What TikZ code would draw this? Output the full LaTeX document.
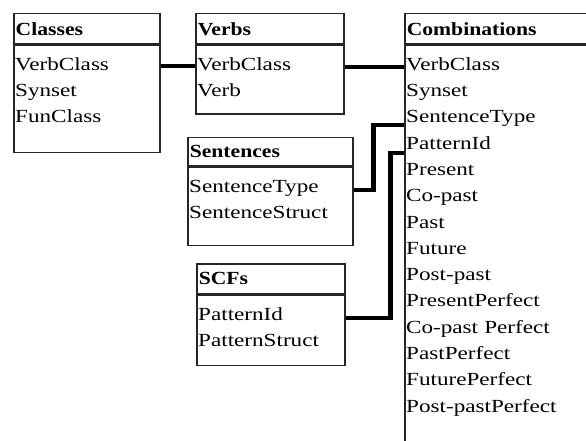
\documentclass[tikz,border=0pt]{standalone}
\usepackage{fontspec}
\setmainfont{Liberation Serif}[FakeStretch=1.25]
\newfontfamily\hdfont{Liberation Serif}[FakeStretch=1.17]
\usepackage{tikz}
\usetikzlibrary{positioning}

\begin{document}
\begin{tikzpicture}[x=1pt, y=-1pt, node distance=0pt,
  hdr/.style={rectangle, draw=black!85, line width=1.5pt, anchor=north west, align=left,
    minimum height=30pt, inner xsep=2pt, inner ysep=0pt, font=\hdfont\bfseries\fontsize{18.5pt}{22pt}\selectfont},
  tbody/.style={rectangle, draw=black!85, line width=1.5pt, inner sep=0pt},
  item/.style={rectangle, inner xsep=2pt, inner ysep=0pt, text width=175pt, align=left,
    text height=17pt, text depth=8.9pt, font=\fontsize{18.5pt}{22pt}\selectfont},
  link/.style={line width=4.5pt, black}]
  \clip (0,0) rectangle (586,441);
  % tables
  \node[hdr, text width=142pt] (classes) at (13,13) {Classes};
  \node[tbody, below=of classes, minimum width=146pt, minimum height=107pt] (classes-b) {};
  \node[hdr, text width=144pt] (verbs) at (195,13) {Verbs};
  \node[tbody, below=of verbs, minimum width=148pt, minimum height=69pt] (verbs-b) {};
  \node[hdr, text width=161pt, minimum height=28pt] (sentences) at (187,137) {Sentences};
  \node[tbody, below=of sentences, minimum width=165pt, minimum height=78pt] (sentences-b) {};
  \node[hdr, text width=144pt] (scfs) at (196,263) {SCFs};
  \node[tbody, below=of scfs, minimum width=148pt, minimum height=70pt] (scfs-b) {};
  \node[hdr, text width=246pt] (comb) at (404,13) {Combinations};
  \node[tbody, below=of comb, minimum width=250pt, minimum height=430pt] (comb-b) {};
  % fields
  \node[item, anchor=north west] (cls-vc) at ([yshift=-8.5pt]classes-b.north west) {VerbClass};
  \node[item, below=of cls-vc] (cls-syn) {Synset};
  \node[item, below=of cls-syn] (cls-fun) {FunClass};
  \node[item, anchor=north west] (vrb-vc) at ([yshift=-8.5pt]verbs-b.north west) {VerbClass};
  \node[item, below=of vrb-vc] (vrb-verb) {Verb};
  \node[item, anchor=north west] (sen-st) at ([yshift=-8.5pt]sentences-b.north west) {SentenceType};
  \node[item, below=of sen-st] (sen-ss) {SentenceStruct};
  \node[item, anchor=north west] (scf-pi) at ([yshift=-8.5pt]scfs-b.north west) {PatternId};
  \node[item, below=of scf-pi] (scf-ps) {PatternStruct};
  \node[item, anchor=north west] (comb-vc) at ([yshift=-8.5pt]comb-b.north west) {VerbClass};
  \node[item, below=of comb-vc] (comb-syn) {Synset};
  \node[item, below=of comb-syn] (comb-st) {SentenceType};
  \node[item, below=of comb-st] (comb-pi) {PatternId};
  \node[item, below=of comb-pi] (comb-pres) {Present};
  \node[item, below=of comb-pres] (comb-cop) {Co-past};
  \node[item, below=of comb-cop] (comb-past) {Past};
  \node[item, below=of comb-past] (comb-fut) {Future};
  \node[item, below=of comb-fut] (comb-pop) {Post-past};
  \node[item, below=of comb-pop] (comb-prp) {PresentPerfect};
  \node[item, below=of comb-prp] (comb-copp) {Co-past Perfect};
  \node[item, below=of comb-copp] (comb-pap) {PastPerfect};
  \node[item, below=of comb-pap] (comb-fup) {FuturePerfect};
  \node[item, below=of comb-fup] (comb-popp) {Post-pastPerfect};
  % links
  \draw[link] ([yshift=2pt]cls-vc.mid -| classes-b.east) -- ([yshift=2pt]cls-vc.mid -| verbs-b.west);
  \draw[link] ([yshift=1pt]vrb-vc.mid -| verbs-b.east) -- ([yshift=1pt]vrb-vc.mid -| comb-b.west);
  \draw[link] (sen-st.mid -| sentences-b.east) -- ++(20,0) |- ([yshift=-2pt]comb-st.base -| comb-b.west);
  \draw[link] (scf-pi.mid -| scfs-b.east) -- ++(45,0) |- ([yshift=-4pt]comb-pi.base -| comb-b.west);
\end{tikzpicture}
\end{document}
